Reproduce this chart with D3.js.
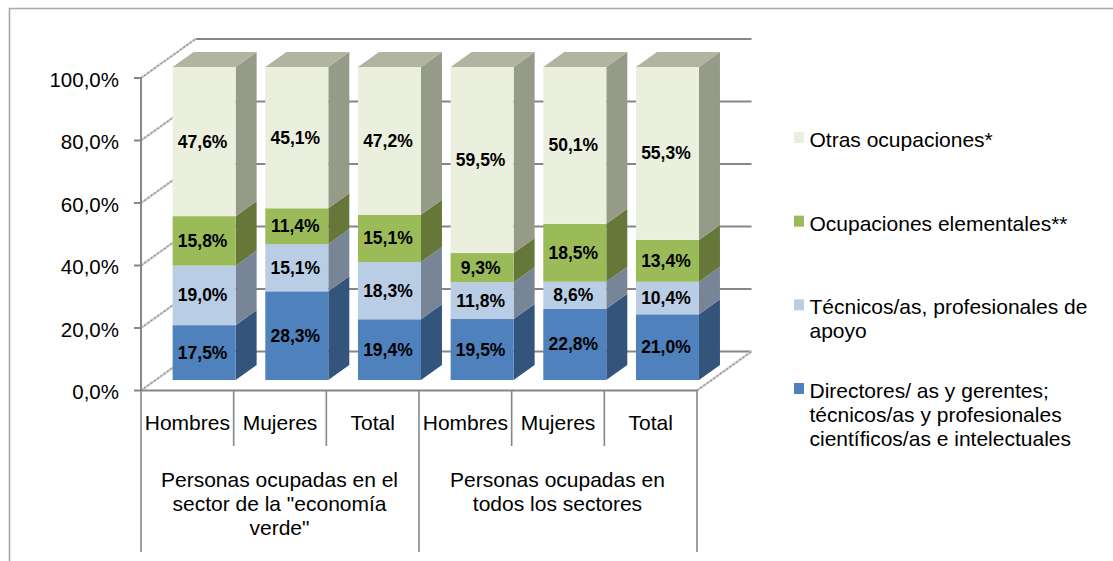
<!DOCTYPE html>
<html><head><meta charset="utf-8">
<script src="https://cdn.jsdelivr.net/npm/d3@7"></script>
<style>
html,body{margin:0;padding:0;background:#fff}
svg{display:block}
text{font-family:"Liberation Sans",Arial,sans-serif;fill:#000}
</style></head><body>
<svg id="c" width="1113" height="561"></svg>
<script>
const categories = ["Hombres","Mujeres","Total","Hombres","Mujeres","Total"];
const groups = [
  ["Personas ocupadas en el","sector de la \"economía","verde\""],
  ["Personas ocupadas en","todos los sectores"]
];
const seriesNames = ["Directores","Tecnicos","Elementales","Otras"];
const directores  = [17.5,28.3,19.4,19.5,22.8,21.0];
const tecnicos    = [19.0,15.1,18.3,11.8, 8.6,10.4];
const elementales = [15.8,11.4,15.1, 9.3,18.5,13.4];
const otras       = [47.6,45.1,47.2,59.5,50.1,55.3];
const yTicks = [0,20,40,60,80,100];
const legendEntries = [
  ["Otras ocupaciones*"],
  ["Ocupaciones elementales**"],
  ["Técnicos/as, profesionales de","apoyo"],
  ["Directores/ as y gerentes;","técnicos/as y profesionales","científicos/as e intelectuales"]
];
const frontColors = ["#4F81BD","#B9CDE5","#9BBB59","#EBEFDE"];
const sideColors  = ["#33547B","#788596","#65783A","#969A88"];
const topColor = "#B1B4A1";
const legendColors = ["#EBEFDE","#9BBB59","#B9CDE5","#4F81BD"];

const fmt = v => v.toFixed(1).replace(".",",") + "%";
const svg = d3.select("#c");
const GRID = "#868686";

// frame
svg.append("path").attr("d","M9.5,561V8.5H1113").attr("fill","none")
  .attr("stroke","#a8a8a8").attr("stroke-width",1.6);

// 3D projection
const depthX = 54.5, depthY = -39;
const x = d3.scaleBand().domain(d3.range(categories.length)).range([141,697]);
const yFront = d3.scaleLinear().domain([0,100]).range([390.5,78]);
const yBack = v => yFront(v) + depthY;

const plot = svg.append("g");
// back wall gridlines
plot.selectAll("line.grid").data(yTicks).join("line")
  .attr("x1",141+depthX).attr("x2",697+depthX)
  .attr("y1",yBack).attr("y2",yBack)
  .attr("stroke",GRID).attr("stroke-width",2);
// left wall diagonals, hatched
[["#d0d0d0",2.4,null],["#8e8e8e",1.2,"2 2"]].forEach(([c,w,dash])=>{
  plot.append("g").selectAll("line").data(yTicks).join("line")
    .attr("x1",141).attr("x2",141+depthX)
    .attr("y1",yFront).attr("y2",yBack)
    .attr("stroke",c).attr("stroke-width",w).attr("stroke-dasharray",dash);
  plot.append("line")
    .attr("x1",697).attr("x2",697+depthX)
    .attr("y1",yFront(0)).attr("y2",yBack(0))
    .attr("stroke",c).attr("stroke-width",w).attr("stroke-dasharray",dash);
});

// bars
const rows = categories.map((c,i)=>({i,Directores:directores[i],Tecnicos:tecnicos[i],Elementales:elementales[i],Otras:otras[i]}));
const stack = d3.stack().keys(seriesNames).offset(d3.stackOffsetExpand)(rows);
const yBar = d3.scaleLinear().domain([0,1]).range([380,67]);
const barW = 63, bdx = 21, bdy = -15, barShift = 16.8;
const barX = i => x(i) + x.bandwidth()/2 + barShift - barW/2;

const gBars = svg.append("g");
stack.forEach((layer,si)=>{
  const g = gBars.append("g");
  g.selectAll("path.side").data(layer).join("path")
    .attr("fill",sideColors[si])
    .attr("d",d=>{
      const r = barX(d.data.i)+barW;
      return `M${r},${yBar(d[0])}L${r+bdx},${yBar(d[0])+bdy}L${r+bdx},${yBar(d[1])+bdy}L${r},${yBar(d[1])}Z`;
    });
  g.selectAll("rect").data(layer).join("rect")
    .attr("x",d=>barX(d.data.i)).attr("width",barW)
    .attr("y",d=>yBar(d[1])).attr("height",d=>yBar(d[0])-yBar(d[1]))
    .attr("fill",frontColors[si]);
  if(si===stack.length-1){
    g.selectAll("path.top").data(layer).join("path")
      .attr("fill",topColor)
      .attr("d",d=>{
        const l = barX(d.data.i), t = yBar(d[1]);
        return `M${l},${t}L${l+bdx},${t+bdy}L${l+barW+bdx},${t+bdy}L${l+barW},${t}Z`;
      });
  }
});
// data labels
stack.forEach(layer=>{
  gBars.append("g").selectAll("text").data(layer).join("text")
    .attr("x",d=>barX(d.data.i)+barW/2-1.5)
    .attr("y",d=>(yBar(d[0])+yBar(d[1]))/2+6)
    .attr("text-anchor","middle")
    .attr("font-size",17.5).attr("font-weight","bold")
    .text(d=>fmt(d.data[layer.key]));
});

// axes lines
const ax = svg.append("g").attr("stroke",GRID).attr("stroke-width",2);
ax.append("line").attr("x1",141).attr("x2",141).attr("y1",yFront(100)).attr("y2",yFront(0));
ax.append("line").attr("x1",141).attr("x2",697).attr("y1",yFront(0)).attr("y2",yFront(0));
ax.selectAll("line.t").data(yTicks).join("line")
  .attr("x1",134).attr("x2",141).attr("y1",yFront).attr("y2",yFront);
// multi-level category separators
const edges = d3.range(categories.length+1);
const edgeX = i => i<categories.length ? x(i) : x(i-1)+x.bandwidth();
ax.selectAll("line.s").data(edges).join("line")
  .attr("x1",edgeX).attr("x2",edgeX).attr("y1",yFront(0))
  .attr("y2",i=> i%3===0 ? 552 : 446)
  .attr("stroke-width",1.6);

// y tick labels
svg.append("g").selectAll("text").data(yTicks).join("text")
  .attr("x",119).attr("y",d=>yFront(d)+8.5).attr("text-anchor","end")
  .attr("font-size",20.5).text(d=>fmt(d));
// category labels
svg.append("g").selectAll("text").data(categories).join("text")
  .attr("x",(d,i)=>x(i)+x.bandwidth()/2).attr("y",430)
  .attr("text-anchor","middle").attr("font-size",21)
  .text(d=>d);
// group labels
groups.forEach((lines,gi)=>{
  const cx = (edgeX(gi*3)+edgeX(gi*3+3))/2;
  svg.append("g").selectAll("text").data(lines).join("text")
    .attr("x",cx-0.5).attr("y",(d,i)=>487+i*24)
    .attr("text-anchor","middle").attr("font-size",21)
    .text(d=>d);
});
// legend
const legendY = d3.scalePoint().domain(d3.range(legendEntries.length)).range([147,398]);
const lg = svg.append("g").selectAll("g").data(legendEntries).join("g")
  .attr("transform",(d,i)=>`translate(0,${legendY(i)})`);
lg.append("rect").attr("x",794).attr("y",-15).attr("width",10).attr("height",11)
  .attr("fill",(d,i)=>legendColors[i]);
lg.selectAll("text").data(d=>d).join("text")
  .attr("x",809.5).attr("y",(d,i)=>i*24)
  .attr("font-size",21).text(d=>d);
</script>
</body></html>
